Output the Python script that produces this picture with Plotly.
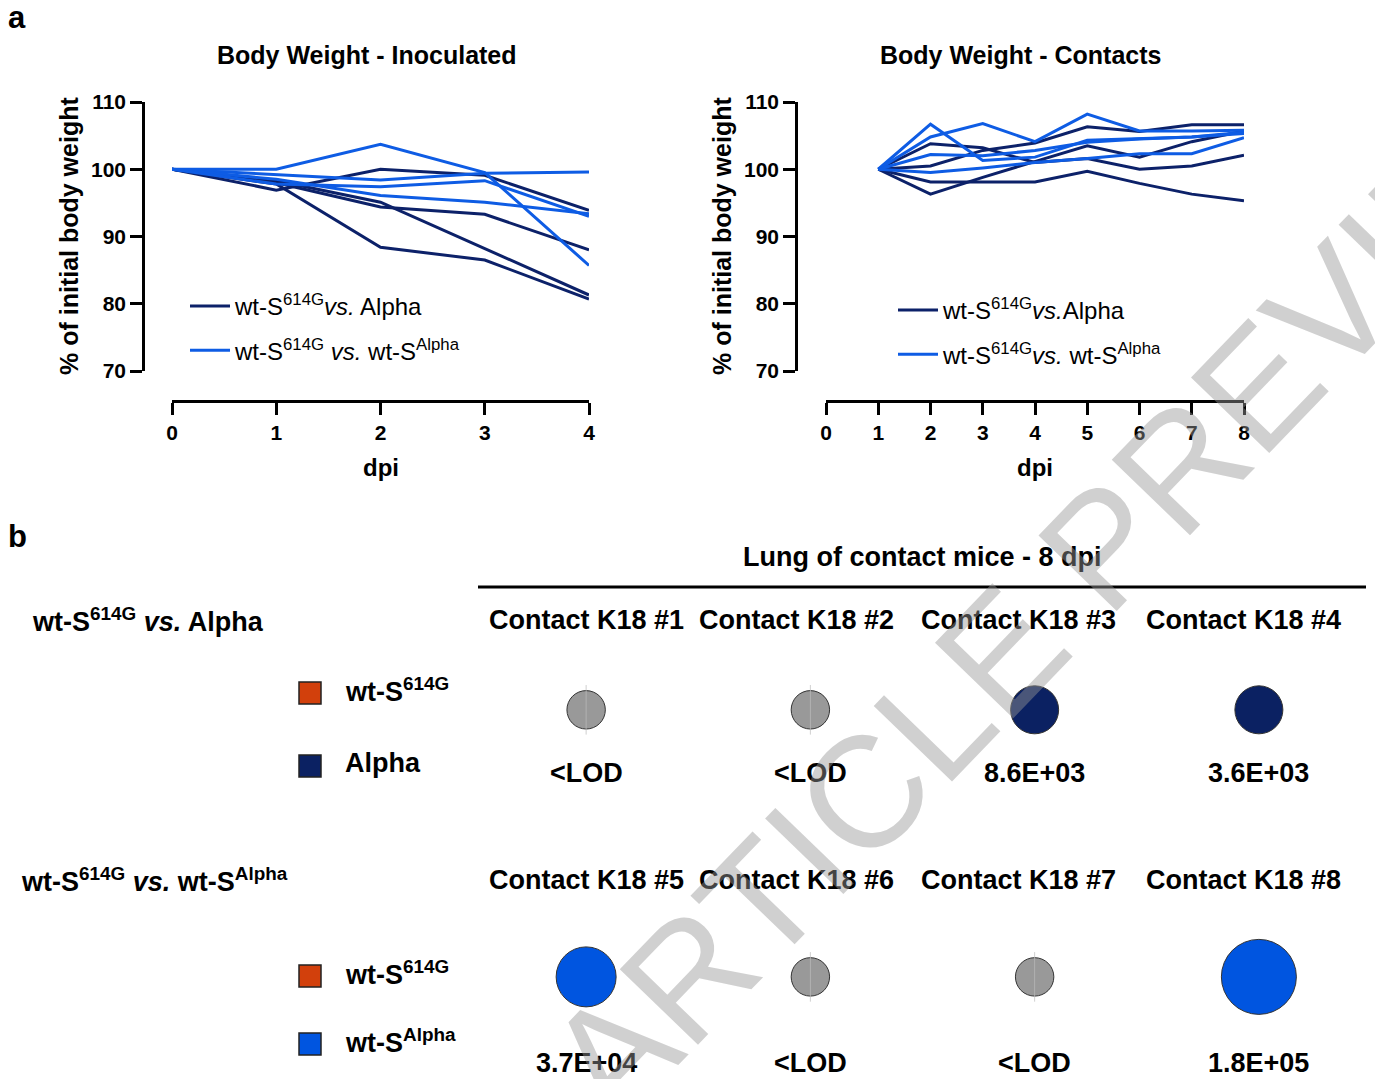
import math
import plotly.graph_objects as go

# ---------------- data ----------------
days_inoc = [0, 1, 2, 3, 4]
inoc_alpha = [
    [100, 96.9, 100.0, 99.1, 93.9],
    [100, 98.0, 94.4, 93.3, 88.0],
    [100, 97.8, 88.4, 86.5, 80.7],
    [100, 98.3, 95.1, 88.2, 81.3],
]
inoc_walpha = [
    [100, 100.0, 103.7, 99.5, 85.7],
    [100, 99.2, 98.4, 99.4, 99.6],
    [100, 98.5, 96.1, 95.1, 93.4],
    [100, 97.8, 97.4, 98.3, 93.0],
]
days_contact = [1, 2, 3, 4, 5, 6, 7, 8]
contact_alpha = [
    [100, 98.1, 98.1, 98.1, 99.7, 97.9, 96.3, 95.3],
    [100, 96.3, 98.8, 101.2, 103.5, 101.8, 104.1, 105.7],
    [100, 103.8, 103.2, 101.0, 101.6, 100.0, 100.5, 102.1],
    [100, 100.5, 102.8, 103.9, 106.3, 105.6, 106.6, 106.6],
]
contact_walpha = [
    [100, 106.7, 101.3, 101.8, 104.3, 104.6, 104.8, 105.5],
    [100, 104.8, 106.8, 104.1, 108.2, 105.7, 105.7, 105.8],
    [100, 102.2, 102.0, 102.8, 104.0, 104.5, 104.8, 105.3],
    [100, 99.5, 100.2, 101.0, 101.6, 102.3, 102.3, 104.7],
]
x_ticks_inoc = [0, 1, 2, 3, 4]
x_ticks_contact = [0, 1, 2, 3, 4, 5, 6, 7, 8]
y_ticks = [70, 80, 90, 100, 110]

legend_alpha_inoc = "wt-S<sup>614G</sup><i>vs.</i> Alpha"
legend_walpha_inoc = "wt-S<sup>614G</sup> <i>vs.</i> wt-S<sup>Alpha</sup>"
legend_alpha_contact = "wt-S<sup>614G</sup><i>vs.</i>Alpha"
legend_walpha_contact = "wt-S<sup>614G</sup><i>vs.</i> wt-S<sup>Alpha</sup>"

# panel b
row_titles = ["wt-S<sup>614G</sup> <i>vs.</i> Alpha",
              "wt-S<sup>614G</sup> <i>vs.</i> wt-S<sup>Alpha</sup>"]
row_contacts = [["Contact K18 #1", "Contact K18 #2", "Contact K18 #3", "Contact K18 #4"],
                ["Contact K18 #5", "Contact K18 #6", "Contact K18 #7", "Contact K18 #8"]]
row_values = [[None, None, 8.6e3, 3.6e3],        # None = <LOD
              [3.7e4, None, None, 1.8e5]]
row_keys = [["wt-S<sup>614G</sup>", "Alpha"],
            ["wt-S<sup>614G</sup>", "wt-S<sup>Alpha</sup>"]]

# ---------------- styles ----------------
W, H = 1375, 1079
FONT = "Liberation Sans, Arial, Helvetica, sans-serif"
NAVY = "#0c2169"
BLUE = "#0e5ce4"
KEY_ORANGE = "#d2400c"
KEY_NAVY = "#0b2162"
KEY_BLUE = "#0055e0"
LOD_GRAY = "#999999"
row_colors = [KEY_NAVY, KEY_BLUE]
row_key_colors = [[KEY_ORANGE, KEY_NAVY], [KEY_ORANGE, KEY_BLUE]]


def px(x):
    return x / W


def py(y):
    return 1 - y / H


fig = go.Figure()

# ---------------- panel a lines ----------------
for i, ys in enumerate(inoc_alpha):
    fig.add_trace(go.Scatter(x=days_inoc, y=ys, mode="lines",
                             line=dict(color=NAVY, width=3),
                             name=legend_alpha_inoc, legendgroup="ia",
                             showlegend=(i == 0), legend="legend",
                             xaxis="x", yaxis="y", hoverinfo="skip"))
for i, ys in enumerate(inoc_walpha):
    fig.add_trace(go.Scatter(x=days_inoc, y=ys, mode="lines",
                             line=dict(color=BLUE, width=3),
                             name=legend_walpha_inoc, legendgroup="iw",
                             showlegend=(i == 0), legend="legend",
                             xaxis="x", yaxis="y", hoverinfo="skip"))
for i, ys in enumerate(contact_alpha):
    fig.add_trace(go.Scatter(x=days_contact, y=ys, mode="lines",
                             line=dict(color=NAVY, width=3),
                             name=legend_alpha_contact, legendgroup="ca",
                             showlegend=(i == 0), legend="legend2",
                             xaxis="x2", yaxis="y2", hoverinfo="skip"))
for i, ys in enumerate(contact_walpha):
    fig.add_trace(go.Scatter(x=days_contact, y=ys, mode="lines",
                             line=dict(color=BLUE, width=3),
                             name=legend_walpha_contact, legendgroup="cw",
                             showlegend=(i == 0), legend="legend2",
                             xaxis="x2", yaxis="y2", hoverinfo="skip"))

# ---------------- panel b bubbles ----------------
def diam(v):
    mag = 2 if v is None else math.floor(math.log10(v))
    return 48 * 1.25 ** (mag - 3)


for r, vals in enumerate(row_values):
    cols = list(range(len(vals)))
    fig.add_trace(go.Scatter(
        x=cols, y=[r] * len(vals), mode="markers",
        marker=dict(size=[diam(v) for v in vals], sizemode="diameter",
                    color=[LOD_GRAY if v is None else row_colors[r] for v in vals],
                    line=dict(color="#333333", width=1), opacity=1),
        showlegend=False, xaxis="x3", yaxis="y3", hoverinfo="skip", cliponaxis=False))
    lod_cols = [c for c, v in zip(cols, vals) if v is None]
    fig.add_trace(go.Scatter(
        x=lod_cols, y=[r] * len(lod_cols), mode="markers",
        marker=dict(symbol="line-ns", size=[diam(None) - 3] * len(lod_cols),
                    line=dict(color="#bdbdbd", width=1)),
        showlegend=False, xaxis="x3", yaxis="y3", hoverinfo="skip", cliponaxis=False))

annotations = []
shapes = []


def ann(**kw):
    base = dict(showarrow=False, xanchor="center", yanchor="middle")
    base.update(kw)
    annotations.append(base)


# value labels and headers
label_offsets = [63, 86]
header_offsets = [90, 97]
header_xshift = [0, -14, -16, -15]
for r, vals in enumerate(row_values):
    for c, v in enumerate(vals):
        txt = "&lt;LOD" if v is None else f"{v:.1E}"
        ann(x=c, y=r, xref="x3", yref="y3", text="<b>" + txt + "</b>",
            yshift=-label_offsets[r], font=dict(family=FONT, size=27, color="black"))
        ann(x=c, y=r, xref="x3", yref="y3", text="<b>" + row_contacts[r][c] + "</b>",
            yshift=header_offsets[r], xshift=header_xshift[c],
            font=dict(family=FONT, size=27, color="black"))

# row titles and keys
row_title_pos = [(30, 620), (19, 880)]
key_pos = [[(310, 693), (310, 766)], [(310, 976), (310, 1044)]]
for r in range(2):
    x0, y0 = row_title_pos[r]
    ann(x=px(x0), y=py(y0), xref="paper", yref="paper", xanchor="left",
        text="<b>" + row_titles[r] + "</b>", font=dict(family=FONT, size=27, color="black"))
    for k in range(2):
        kx, ky = key_pos[r][k]
        shapes.append(dict(type="rect", xref="paper", yref="paper",
                           x0=px(kx - 11), x1=px(kx + 11), y0=py(ky + 11), y1=py(ky - 11),
                           fillcolor=row_key_colors[r][k], line=dict(color="#222222", width=1.5)))
        ann(x=px(343), y=py(ky - 3), xref="paper", yref="paper", xanchor="left",
            text="<b>" + row_keys[r][k] + "</b>", font=dict(family=FONT, size=27, color="black"))

# panel b title and rule
ann(x=px(922), y=py(557), xref="paper", yref="paper",
    text="<b>Lung of contact mice - 8 dpi</b>", font=dict(family=FONT, size=27, color="black"))
shapes.append(dict(type="line", xref="paper", yref="paper", x0=px(478), x1=px(1366),
                   y0=py(587), y1=py(587), line=dict(color="black", width=3)))

# panel a titles
for txt, cx in [("Body Weight - Inoculated", 367), ("Body Weight - Contacts", 1020)]:
    ann(x=px(cx), y=py(55), xref="paper", yref="paper", text="<b>" + txt + "</b>",
        font=dict(family=FONT, size=25, color="black"))
for cx in [69, 722]:
    ann(x=px(cx), y=py(236), xref="paper", yref="paper",
        text="<b>% of initial body weight</b>", textangle=-90,
        font=dict(family=FONT, size=25, color="black"))
for cx in [381, 1035]:
    ann(x=px(cx), y=py(467), xref="paper", yref="paper", text="<b>dpi</b>",
        font=dict(family=FONT, size=24, color="black"))

# panel letters
for txt, cy in [("a", 18), ("b", 537)]:
    ann(x=px(6), y=py(cy), xref="paper", yref="paper", xanchor="left",
        text="<b>" + txt + "</b>", font=dict(family=FONT, size=31, color="black"))

# watermark
ann(x=px(1075), y=py(575), xref="paper", yref="paper", text="ARTICLE PREVIEW",
    textangle=-46, font=dict(family=FONT, size=158, color="rgba(150,150,150,0.45)"))

axis_common = dict(showline=True, linecolor="black", linewidth=2.5, ticks="outside", ticklen=12,
                   tickwidth=2.5, tickcolor="black", showgrid=False, zeroline=False,
                   tickfont=dict(family=FONT, size=21, color="black", weight="bold"))

fig.update_layout(
    width=W, height=H, margin=dict(l=0, r=0, t=0, b=0, pad=0, autoexpand=False),
    paper_bgcolor="white", plot_bgcolor="white",
    xaxis=dict(domain=[px(172), px(589)], range=[0, 4], tickvals=x_ticks_inoc,
               anchor="free", position=py(401), **axis_common),
    yaxis=dict(domain=[py(371), py(102)], range=[70, 110], tickvals=y_ticks,
               anchor="free", position=px(143), **axis_common),
    xaxis2=dict(domain=[px(826), px(1244)], range=[0, 8], tickvals=x_ticks_contact,
                anchor="free", position=py(401), **axis_common),
    yaxis2=dict(domain=[py(371), py(102)], range=[70, 110], tickvals=y_ticks,
                anchor="free", position=px(796), **axis_common),
    xaxis3=dict(domain=[px(474), px(1371)], range=[-0.5, 3.5], visible=False),
    yaxis3=dict(domain=[py(1057), py(603)], range=[1.3, -0.4], visible=False),
    legend=dict(x=px(185), y=py(284), xanchor="left", yanchor="top", bgcolor="rgba(0,0,0,0)",
                font=dict(family=FONT, size=24, color="black"), tracegroupgap=10, itemwidth=40),
    legend2=dict(x=px(893), y=py(288), xanchor="left", yanchor="top", bgcolor="rgba(0,0,0,0)",
                 font=dict(family=FONT, size=24, color="black"), tracegroupgap=10, itemwidth=40),
    annotations=annotations, shapes=shapes,
)

fig.write_html("out.html", post_script="document.body.style.margin='0px';document.body.style.overflow='hidden';")
